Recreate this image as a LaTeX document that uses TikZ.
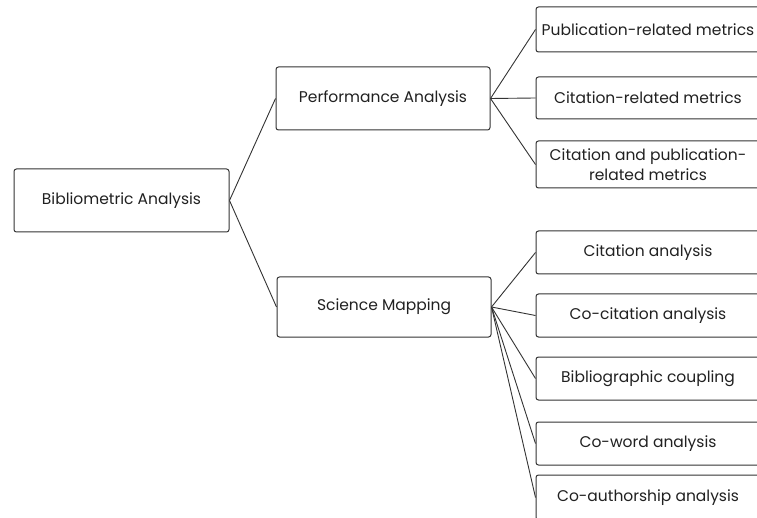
\documentclass[tikz,border=0pt]{standalone}
\usepackage{fontspec}
\setmainfont{Poppins}
\usetikzlibrary{positioning}
\definecolor{mgray}{rgb}{0.2, 0.2, 0.2}
\definecolor{mtext}{rgb}{0.13, 0.13, 0.13}
\tikzset{box/.style = {draw=mgray, line width=1pt, rounded corners=2.5pt,
                       fill=white, text=mtext, align=center, inner sep=2pt,
                       font=\fontsize{15.5}{20}\selectfont},
         leaf/.style = {box, minimum width=224pt, minimum height=43pt},
         link/.style = {draw=mgray, line width=0.9pt}}

\begin{document}
\begin{tikzpicture}[x=1pt, y=-1pt]
    \useasboundingbox (0, 0) rectangle (757, 518);
    \clip (0, 0) rectangle (757, 518);

    \node [box, minimum width=215pt, minimum height=63pt] (root) at (121.5, 200.5) {Bibliometric Analysis};
    \node [box, minimum width=214pt, minimum height=63pt] (perf) at (383, 98.5) {Performance Analysis};
    \node [box, minimum width=214pt, minimum height=60pt] (sci) at (384, 307) {Science Mapping};

    \node [leaf, minimum height=45pt] (pub) at (648, 29.5) {Publication-related metrics};
    \node [leaf, minimum height=42pt] (cit) at (648, 98) {Citation-related metrics};
    \node [leaf, minimum height=47pt] (both) at (648, 164.5) {Citation and publication-\\related metrics};

    \node [leaf] (cita) at (648, 252.5) {Citation analysis};
    \node [leaf] (cocit) at (648, 315.5) {Co-citation analysis};
    \node [leaf] (bib) at (648, 378.5) {Bibliographic coupling};
    \node [leaf] (coword) at (648, 443.5) {Co-word analysis};
    \node [leaf, minimum height=45pt] (coauth) at (648, 497.5) {Co-authorship analysis};

    \draw [link] (root.east) -- (perf.west);
    \draw [link] (root.east) -- (sci.west);
    \foreach \leafname in {pub, cit, both}
        \draw [link] (perf.east) -- (\leafname.west);
    \foreach \leafname in {cita, cocit, bib, coword, coauth}
        \draw [link] (sci.east) -- (\leafname.west);
\end{tikzpicture}
\end{document}
